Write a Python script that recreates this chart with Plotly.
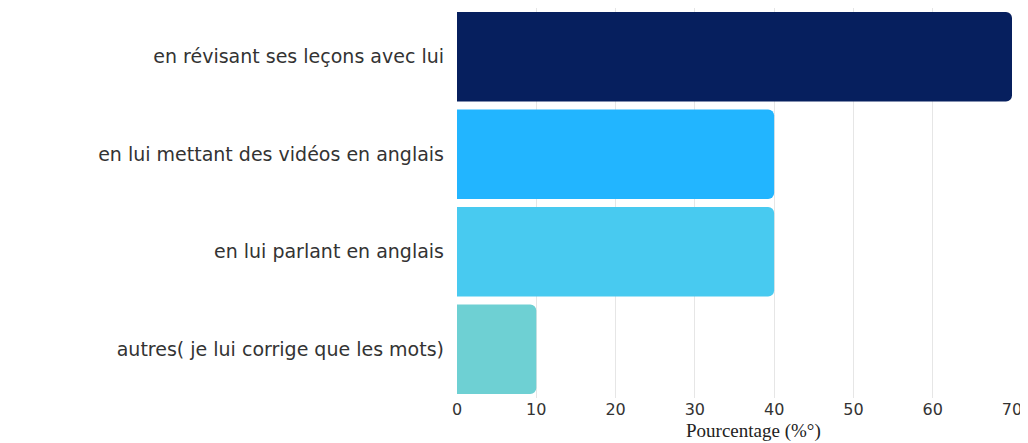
import plotly.graph_objects as go

categories = [
    'en révisant ses leçons avec lui',
    'en lui mettant des vidéos en anglais',
    'en lui parlant en anglais',
    'autres( je lui corrige que les mots)',
]
values = [70, 40, 40, 10]
colors = ['#061f5e', '#22b5ff', '#48caf0', '#6ed0d3']
x_ticks = [0, 10, 20, 30, 40, 50, 60, 70]

fig = go.Figure(go.Bar(
    x=values, y=categories,
    orientation='h',
    marker_color=colors,
    marker_line_width=0,
    hoverinfo='x+y',
))

# page has an 8px body margin, so the figure is sized to fit inside it
fig.update_layout(
    width=1020, height=435,
    paper_bgcolor='white',
    plot_bgcolor='white',
    font=dict(family='DejaVu Sans', color='#333333', size=19),
    margin=dict(l=449, r=16, t=0, b=45),
    bargap=0.08,
    barcornerradius=6,
    showlegend=False,
    xaxis=dict(
        range=[0, 70],
        tickvals=x_ticks,
        showgrid=True, gridcolor='#e6e6e6', gridwidth=1,
        zeroline=False, showline=False,
        ticklabelstandoff=0,
        tickfont=dict(size=16, family='DejaVu Sans', color='#333333'),
    ),
    yaxis=dict(
        autorange='reversed',
        showgrid=False, zeroline=False, showline=False,
        ticklabelstandoff=12,
        tickfont=dict(size=19, family='DejaVu Sans', color='#333333'),
    ),
)

# axis title as an annotation so it sits low and clear of the tick labels
fig.add_annotation(
    text='Pourcentage (%°)',
    xref='paper', yref='paper', x=0.535, y=0,
    xanchor='center', yanchor='top', yshift=-20,
    showarrow=False,
    font=dict(family='Liberation Serif', size=19, color='#222222'),
)

fig.write_html('out.html')
